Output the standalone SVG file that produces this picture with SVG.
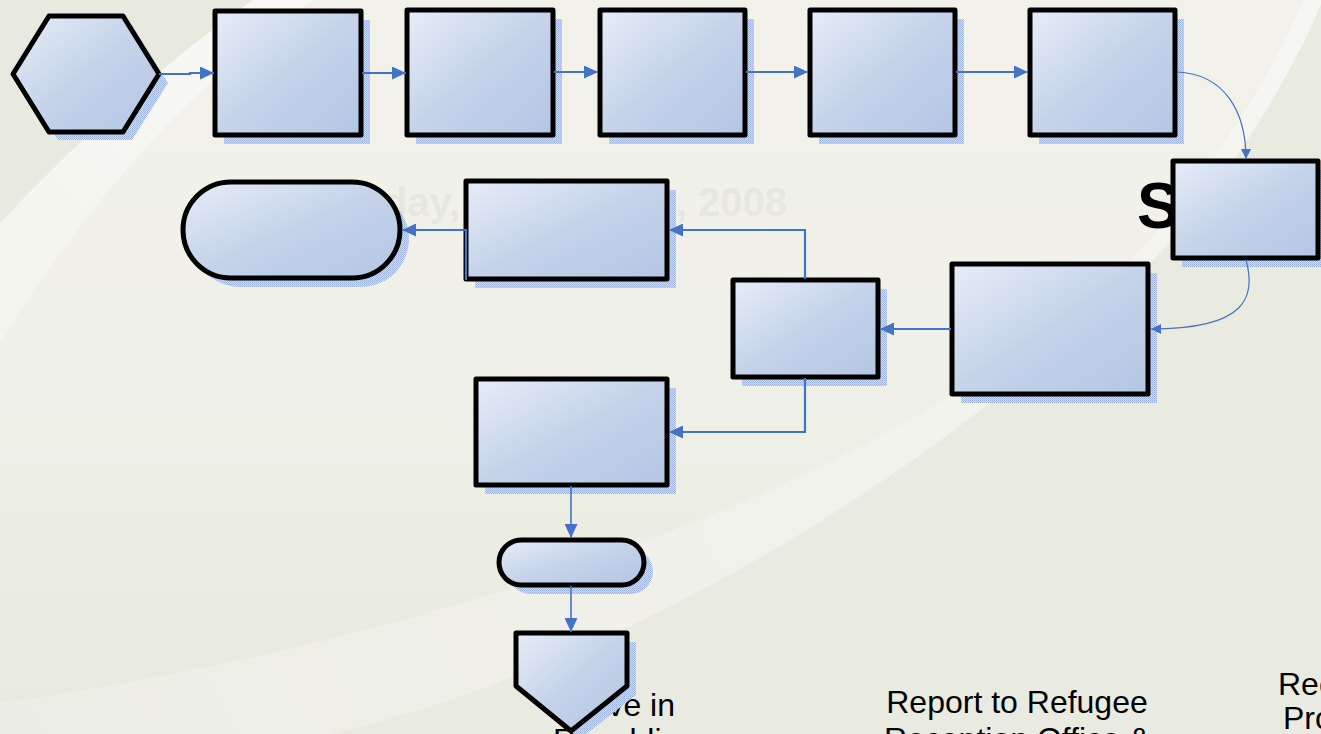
<svg xmlns="http://www.w3.org/2000/svg" width="1321" height="734" viewBox="0 0 1321 734">
<defs>
<style>
.node{fill:url(#nf);stroke:#000;stroke-width:5;stroke-linejoin:round}
.shd{fill:url(#hatch)}
.c{fill:none;stroke:#4472C4;stroke-width:2.2}
.ct{fill:none;stroke:#4472C4;stroke-width:1.2}
.cm{fill:none;stroke:#4472C4;stroke-width:1.6}
.lbl{font-family:"Liberation Sans",Arial,sans-serif;font-size:32px;fill:#000}
.wm{font-family:"Liberation Sans",Arial,sans-serif;font-size:40px;font-weight:bold;fill:#E6E7DF}
</style>
<linearGradient id="nf" x1="0" y1="0" x2="1" y2="1">
<stop offset="0" stop-color="#E6EDF8"/>
<stop offset="0.5" stop-color="#C5D3EA"/>
<stop offset="1" stop-color="#B3C6E3"/>
</linearGradient>
<pattern id="hatch" width="2" height="2" patternUnits="userSpaceOnUse">
<rect width="2" height="2" fill="#D3DBEA"/>
<rect width="1" height="1" fill="#9AB0D9"/>
<rect x="1" y="1" width="1" height="1" fill="#AABDDF"/>
</pattern>
<linearGradient id="bgL" gradientUnits="userSpaceOnUse" x1="0" y1="0" x2="0" y2="703">
<stop offset="0" stop-color="#F2F2EB"/>
<stop offset="0.55" stop-color="#EFF0E7"/>
<stop offset="1" stop-color="#E8EADE"/>
</linearGradient>
<linearGradient id="bgB" gradientUnits="userSpaceOnUse" x1="0" y1="734" x2="1321" y2="0">
<stop offset="0" stop-color="#ECEDE4"/>
<stop offset="1" stop-color="#F6F6F2"/>
</linearGradient>
<linearGradient id="bgW" gradientUnits="userSpaceOnUse" x1="280" y1="0" x2="0" y2="300">
<stop offset="0" stop-color="#F8F8F5"/>
<stop offset="1" stop-color="#F4F4EE"/>
</linearGradient>
<marker id="a" viewBox="0 0 14 13" refX="14" refY="6.5" markerWidth="14" markerHeight="13" markerUnits="userSpaceOnUse" orient="auto">
<path d="M0,0 L14,6.5 L0,13 Z" fill="#4472C4"/>
</marker>
<marker id="s" viewBox="0 0 10 10" refX="10" refY="5" markerWidth="10" markerHeight="10" markerUnits="userSpaceOnUse" orient="auto">
<path d="M0,0 L10,5 L0,10 Z" fill="#4472C4"/>
</marker>
</defs>

<g id="background">
<rect width="1321" height="734" fill="#EAEBE0"/>
<path d="M0,0 L1303,0 C1270,80 1200,190 1128,262 C900,480 450,640 0,703 Z" fill="url(#bgL)"/>
<path d="M0,703 C450,640 900,480 1128,262 C1200,190 1270,80 1303,0 L1321,0 L1321,4 C1290,80 1222,190 1148,265 C920,490 600,672 330,734 L0,734 Z" fill="url(#bgB)"/>
<path d="M0,0 L253,0 Q120,95 0,223 Z" fill="#E9EADF"/>
<path d="M253,0 L313,0 Q130,130 0,343 L0,223 Q120,95 253,0 Z" fill="url(#bgW)"/>
</g>

<g id="labels">
<text class="wm" x="460" y="216" text-anchor="end">day,</text>
<text class="wm" x="787" y="216" text-anchor="end">, 2008</text>
<text x="1137" y="228" font-family="Liberation Sans, Arial, sans-serif" font-size="64" font-weight="bold" fill="#000">S</text>
<text class="lbl"><tspan x="675" y="716" text-anchor="end">Arrive in</tspan><tspan x="553" y="751">Republic</tspan></text>
<text class="lbl" text-anchor="middle"><tspan x="1017" y="713">Report to Refugee</tspan><tspan x="1017" y="750">Reception Office &amp;</tspan></text>
<text class="lbl"><tspan x="1278" y="695">Rec</tspan><tspan x="1283" y="729">Pro</tspan></text>
</g>

<g id="n-start">
<polygon class="shd" points="22,83 58,25 132,25 168,83 132,140 58,140"/>
<polygon class="node" points="13,74 49,16 123,16 159,74 123,132 49,132"/>
</g>
<g id="n1">
<rect class="shd" x="224" y="20" width="146" height="124"/>
<rect class="node" x="215" y="11" width="146" height="124"/>
</g>
<g id="n2">
<rect class="shd" x="416" y="19" width="146" height="125"/>
<rect class="node" x="407" y="10" width="146" height="125"/>
</g>
<g id="n3">
<rect class="shd" x="609" y="19" width="145" height="125"/>
<rect class="node" x="600" y="10" width="145" height="125"/>
</g>
<g id="n4">
<rect class="shd" x="819" y="19" width="145" height="125"/>
<rect class="node" x="810" y="10" width="145" height="125"/>
</g>
<g id="n5">
<rect class="shd" x="1039" y="19" width="145" height="125"/>
<rect class="node" x="1030" y="10" width="145" height="125"/>
</g>
<g id="n6">
<rect class="shd" x="1182" y="170" width="145" height="97"/>
<rect class="node" x="1173" y="161" width="145" height="97"/>
</g>
<g id="n9">
<rect class="shd" x="961" y="273" width="196" height="130"/>
<rect class="node" x="952" y="264" width="196" height="130"/>
</g>
<g id="n8">
<rect class="shd" x="742" y="289" width="145" height="97"/>
<rect class="node" x="733" y="280" width="145" height="97"/>
</g>
<g id="n7">
<rect class="shd" x="475" y="190" width="201" height="98"/>
<rect class="node" x="466" y="181" width="201" height="98"/>
</g>
<g id="n-end">
<rect class="shd" x="192" y="191" width="217" height="96" rx="48"/>
<rect class="node" x="183" y="182" width="217" height="96" rx="48"/>
</g>
<g id="n10">
<rect class="shd" x="485" y="388" width="191" height="106"/>
<rect class="node" x="476" y="379" width="191" height="106"/>
</g>
<g id="n-term">
<rect class="shd" x="508" y="549" width="145" height="45" rx="22.5"/>
<rect class="node" x="499" y="540" width="145" height="45" rx="22.5"/>
</g>
<g id="n-offpage">
<polygon class="shd" points="525,642 636,642 636,695 580,739 525,695"/>
<polygon class="node" points="516,633 627,633 627,686 571,731 516,686"/>
</g>

<g id="connectors">
<path class="c" d="M159,74 H190 V73 H214" marker-end="url(#a)"/>
<path class="c" d="M362,73 H406" marker-end="url(#a)"/>
<path class="c" d="M554,72 H598" marker-end="url(#a)"/>
<path class="c" d="M746,72 H808" marker-end="url(#a)"/>
<path class="c" d="M956,72 H1028" marker-end="url(#a)"/>
<path class="ct" d="M1177,72 C1225,74 1246,112 1246,159" marker-end="url(#s)"/>
<path class="ct" d="M1246,260 C1256,296 1248,329 1151,329" marker-end="url(#s)"/>
<path class="c" d="M951,329 H880" marker-end="url(#a)"/>
<path class="c" d="M805,279 V230 H669" marker-end="url(#a)"/>
<path class="c" d="M466,280 V230 H402" marker-end="url(#a)"/>
<path class="c" d="M805,378 V432 H669" marker-end="url(#a)"/>
<path class="cm" d="M571,486 V538" marker-end="url(#a)"/>
<path class="cm" d="M571,586 V632" marker-end="url(#a)"/>
</g>
</svg>
